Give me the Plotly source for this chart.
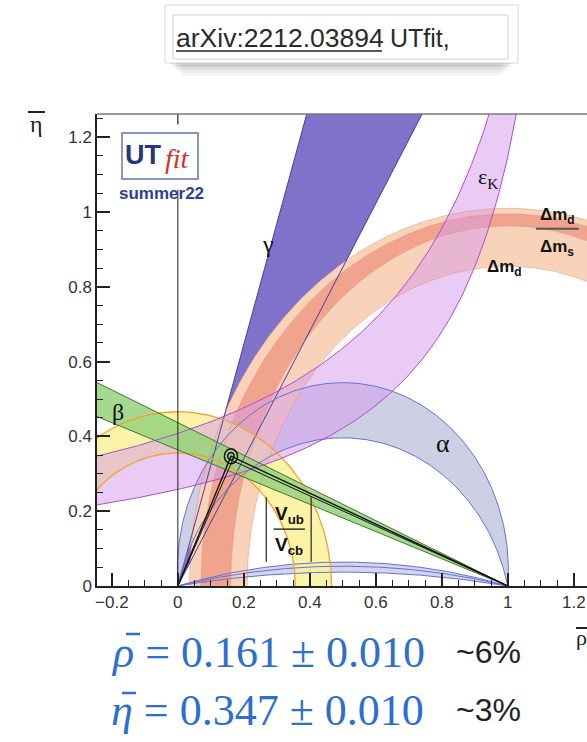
import numpy as np
import plotly.graph_objects as go

# ---- global fit result in the (rho-bar, eta-bar) plane ----
rho_fit, rho_err = 0.161, 0.010
eta_fit, eta_err = 0.347, 0.010

# ---- constraint bands ----
gamma_edges_deg = [59.6, 72.8]        # rays from (0,0)
beta_edges_deg = [20.0, 23.6]         # rays from (1,0)
alpha_edges_deg = [85.2, 103.2]       # arcs through (0,0) and (1,0)
alpha_alt_edges_deg = [165.4, 171.5]  # second alpha solution
alpha_alt_mid_deg = [167.9]
vub_vcb_radii = [0.356, 0.466]        # circles around (0,0)
dmd_rx = [0.79, 0.965]                # ellipses around (1,0)
dmd_ry = [0.855, 1.01]
dmd_dms_rx = [0.84, 0.93]
dmd_dms_ry = [0.963, 0.995]
epsk_k = [0.569, 0.333]               # eta = k / (d - rho)
epsk_d = [1.395, 1.29]

# ---- axes ----
rho_range = [-0.245, 1.24]
eta_range = [0.0, 1.262]

# pixel -> paper helpers for decorations outside the frame
L, R, T, B = 97, 587, 114, 586
def px(x):
    return (x - L) / (R - L)
def py(y):
    return (B - y) / (B - T)


def ray(x0, y0, deg, direction=1, length=3.0):
    a = np.radians(deg)
    return (np.array([x0, x0 + direction * length * np.cos(a)]),
            np.array([y0, y0 + length * np.sin(a)]))


def alpha_arc(a_deg, n=300):
    a = np.radians(a_deg)
    cy = 0.5 / np.tan(a)
    r = 0.5 / np.sin(a)
    t0 = np.arctan2(-cy, 0.5)
    t = np.linspace(t0, np.pi - t0, n)
    return 0.5 + r * np.cos(t), cy + r * np.sin(t)


def ellipse_arc(cx, rx, ry, n=300):
    t = np.linspace(0, np.pi, n)
    return cx + rx * np.cos(t), ry * np.sin(t)


def epsk_curve(k, d, n=300, top=1.45):
    x = np.linspace(-0.4, d - k / top, n)
    return x, k / (d - x)


def band(xa, ya, xb, yb):
    return (np.concatenate([xa, xb[::-1], xa[:1]]),
            np.concatenate([ya, yb[::-1], ya[:1]]))


fig = go.Figure()


def fill(x, y, color, name):
    fig.add_trace(go.Scatter(x=x, y=y, mode="lines", fill="toself",
                             fillcolor=color, line=dict(width=0),
                             hoverinfo="skip", name=name))


def line(x, y, color, width=1.0, name=""):
    fig.add_trace(go.Scatter(x=x, y=y, mode="lines",
                             line=dict(color=color, width=width),
                             hoverinfo="skip", name=name))


# gamma wedge
g1x, g1y = ray(0, 0, gamma_edges_deg[0])
g2x, g2y = ray(0, 0, gamma_edges_deg[1])
fill(np.array([0, g1x[1], g2x[1], 0]), np.array([0, g1y[1], g2y[1], 0]),
     "#8072cb", "gamma")

# alpha bands
a_out = alpha_arc(alpha_edges_deg[0])
a_in = alpha_arc(alpha_edges_deg[1])
fill(*band(*a_out, *a_in), "#cdd0e3", "alpha")
aa_out = alpha_arc(alpha_alt_edges_deg[0])
aa_in = alpha_arc(alpha_alt_edges_deg[1])
fill(*band(*aa_out, *aa_in), "#d3d6ea", "alpha2")

# Delta m_d and Delta m_d / Delta m_s
d_out = ellipse_arc(1.0, dmd_rx[1], dmd_ry[1])
d_in = ellipse_arc(1.0, dmd_rx[0], dmd_ry[0])
fill(*band(*d_out, *d_in), "#f9d3b9", "dmd")
s_out = ellipse_arc(1.0, dmd_dms_rx[1], dmd_dms_ry[1])
s_in = ellipse_arc(1.0, dmd_dms_rx[0], dmd_dms_ry[0])
fill(*band(*s_out, *s_in), "#f0a38d", "dmd_dms")

# |Vub/Vcb|
v_out = ellipse_arc(0.0, vub_vcb_radii[1], vub_vcb_radii[1])
v_in = ellipse_arc(0.0, vub_vcb_radii[0], vub_vcb_radii[0])
fill(*band(*v_out, *v_in), "rgba(250,242,150,0.85)", "vub")

# epsilon_K
e_up = epsk_curve(epsk_k[0], epsk_d[0])
e_lo = epsk_curve(epsk_k[1], epsk_d[1])
fill(*band(*e_up, *e_lo), "rgba(212,155,236,0.52)", "epsk")

# beta
b1x, b1y = ray(1, 0, beta_edges_deg[0], direction=-1)
b2x, b2y = ray(1, 0, beta_edges_deg[1], direction=-1)
fill(np.array([1, b1x[1], b2x[1], 1]), np.array([0, b1y[1], b2y[1], 0]),
     "rgba(150,210,125,0.85)", "beta")

# band edges
for xs, ys in (d_out, d_in, s_out, s_in):
    line(xs, ys, "rgba(232,140,115,0.6)", 0.8)
line(g1x, g1y, "#4a3d9e", 1.0)
line(g2x, g2y, "#4a3d9e", 1.0)
for deg in alpha_edges_deg + alpha_alt_edges_deg + alpha_alt_mid_deg:
    line(*alpha_arc(deg), "#6272d8", 1.0)
line(*v_out, "#f0a232", 1.3)
line(*v_in, "#f0a232", 1.3)
line(*e_up, "#b24ccc", 1.0)
line(*e_lo, "#b24ccc", 1.0)
line(b1x, b1y, "#3c7a2f", 1.0)
line(b2x, b2y, "#3c7a2f", 1.0)

# unitarity triangle from the fit
line(np.array([0, rho_fit, 1]), np.array([0, eta_fit, 0]), "#111111", 1.4)
line(np.array([rho_fit, 1]), np.array([eta_fit - eta_err, 0]), "#111111", 1.0)
line(np.array([0, rho_fit + rho_err]), np.array([0, eta_fit]), "#111111", 1.0)

# apex probability contours
t = np.linspace(0, 2 * np.pi, 100)
for k in (1, 2):
    line(rho_fit + k * rho_err * np.cos(t), eta_fit + k * eta_err * np.sin(t),
         "#111111", 1.5)

SANS = "Liberation Sans, Arial, sans-serif"
SERIF = "Liberation Serif, Times New Roman, serif"
BLUE = "#2c6fce"


def pline(x0, x1, y0, y1, color, width):
    return dict(type="line", xref="paper", yref="paper", x0=px(x0),
                x1=px(x1), y0=py(y0), y1=py(y1),
                line=dict(color=color, width=width))


shapes = [
    # rho = 0 reference line and top frame
    dict(type="line", xref="x", yref="y", x0=0, x1=0, y0=0, y1=1.06,
         line=dict(color="#222", width=1)),
    dict(type="line", xref="x", yref="y", x0=0, x1=0, y0=eta_range[1],
         y1=eta_range[1] - 0.028, line=dict(color="#222", width=1.2)),
    dict(type="line", xref="paper", yref="paper", x0=0, x1=1, y0=1, y1=1,
         line=dict(color="#777", width=1.5)),
    # logo box
    dict(type="rect", xref="paper", yref="paper", x0=px(122), x1=px(198),
         y0=py(179), y1=py(133), line=dict(color="#6576b2", width=1.5),
         fillcolor="white"),
    # fraction bars
    dict(type="line", xref="x", yref="y", x0=1.085, x1=1.215, y0=0.955,
         y1=0.955, line=dict(color="#555", width=2)),
    dict(type="line", xref="x", yref="y", x0=0.29, x1=0.385, y0=0.152,
         y1=0.152, line=dict(color="#333", width=1.5)),
    dict(type="line", xref="x", yref="y", x0=0.268, x1=0.268, y0=0.065,
         y1=0.237, line=dict(color="#333", width=1.3)),
    dict(type="line", xref="x", yref="y", x0=0.404, x1=0.404, y0=0.065,
         y1=0.237, line=dict(color="#333", width=1.3)),
    # bars over the axis-title symbols
    pline(28, 45, 112, 112, "#222", 2),
    pline(576, 587, 628, 628, "#222", 2),
    # bars over rho and eta in the result lines
    pline(126, 140, 634, 634, BLUE, 2.5),
    pline(122, 136, 693, 693, BLUE, 2.5),
]

# citation box at the top
for i, op in enumerate([0.10, 0.08, 0.06, 0.04, 0.03]):
    shapes.append(dict(type="rect", xref="paper", yref="paper",
                       x0=px(170 + 3 * i), x1=px(513 - 3 * i),
                       y0=py(64 + 3 * i), y1=py(60),
                       line=dict(width=0), fillcolor=f"rgba(0,0,0,{op})"))
shapes += [
    dict(type="rect", xref="paper", yref="paper", x0=px(165), x1=px(518),
         y0=py(63), y1=py(5), line=dict(color="#d8d8d8", width=1),
         fillcolor="white"),
    dict(type="rect", xref="paper", yref="paper", x0=px(173), x1=px(508),
         y0=py(59), y1=py(15), line=dict(color="#cfcfcf", width=1),
         fillcolor="white"),
    pline(176, 382, 51, 51, "#222", 1.5),
]


def note(text, x, y, size, color="#111", family=SANS, xref="x", yref="y",
         xanchor="center", yanchor="middle"):
    return dict(text=text, x=x, y=y, xref=xref, yref=yref, showarrow=False,
                xanchor=xanchor, yanchor=yanchor, borderpad=0,
                font=dict(size=size, color=color, family=family))


pct_rho = round(100 * rho_err / rho_fit)
pct_eta = round(100 * eta_err / eta_fit)

annotations = [
    note("γ", 0.273, 0.915, 24, family=SERIF),
    note("ε<sub>K</sub>", 0.94, 1.09, 22, family=SERIF),
    note("<b>Δm<sub>d</sub></b>", 1.15, 0.99, 17),
    note("<b>Δm<sub>s</sub></b>", 1.15, 0.905, 17),
    note("<b>Δm<sub>d</sub></b>", 0.99, 0.85, 17),
    note("α", 0.803, 0.38, 26, family=SERIF),
    note("β", -0.182, 0.465, 24, family=SERIF),
    note("<b>V<sub>ub</sub></b>", 0.338, 0.19, 19),
    note("<b>V<sub>cb</sub></b>", 0.338, 0.108, 19),
    note("<b>UT</b>", px(143), py(155), 27, color="#27357c", xref="paper",
         yref="paper"),
    note("<i>fit</i>", px(177), py(158), 28, color="#d2302f", family=SERIF,
         xref="paper", yref="paper"),
    note("<b>summer22</b>", px(161), py(193), 17, color="#2a3f9a",
         xref="paper", yref="paper"),
    note("η", px(36), py(124), 24, color="#222", family=SERIF,
         xref="paper", yref="paper"),
    note("ρ", px(575), py(637), 22, color="#222", family=SERIF,
         xref="paper", yref="paper", xanchor="left"),
    note("arXiv:2212.03894", px(175), py(38), 26.5, color="#2a2a2a",
         xref="paper", yref="paper", xanchor="left"),
    note("UTfit,", px(389), py(38), 25, color="#2a2a2a",
         xref="paper", yref="paper", xanchor="left"),
    note(f"<i>ρ</i> = {rho_fit:.3f} ± {rho_err:.3f}", px(110), py(652), 44,
         color=BLUE, family=SERIF, xref="paper", yref="paper",
         xanchor="left"),
    note(f"~{pct_rho}%", px(455), py(652), 32, color="#222",
         xref="paper", yref="paper", xanchor="left"),
    note(f"<i>η</i> = {eta_fit:.3f} ± {eta_err:.3f}", px(110), py(710), 44,
         color=BLUE, family=SERIF, xref="paper", yref="paper",
         xanchor="left"),
    note(f"~{pct_eta}%", px(455), py(710), 32, color="#222",
         xref="paper", yref="paper", xanchor="left"),
]

axis_common = dict(
    showgrid=False, zeroline=False, showline=True, linecolor="#222",
    linewidth=1.5, ticks="inside", ticklen=13, tickwidth=1.5,
    tickcolor="#222", dtick=0.2, tickfont=dict(family=SANS, size=17,
                                                color="#333"),
    minor=dict(dtick=0.05, ticks="inside", ticklen=6, tickwidth=1.2,
               tickcolor="#222"),
)

fig.update_layout(
    width=587, height=742,
    margin=dict(l=L, r=587 - R, t=T, b=742 - B),
    paper_bgcolor="white", plot_bgcolor="white",
    showlegend=False,
    xaxis=dict(range=rho_range, tick0=0, **axis_common),
    yaxis=dict(range=eta_range, tick0=0, **axis_common),
    shapes=shapes,
    annotations=annotations,
)

fig.write_html("out.html")
